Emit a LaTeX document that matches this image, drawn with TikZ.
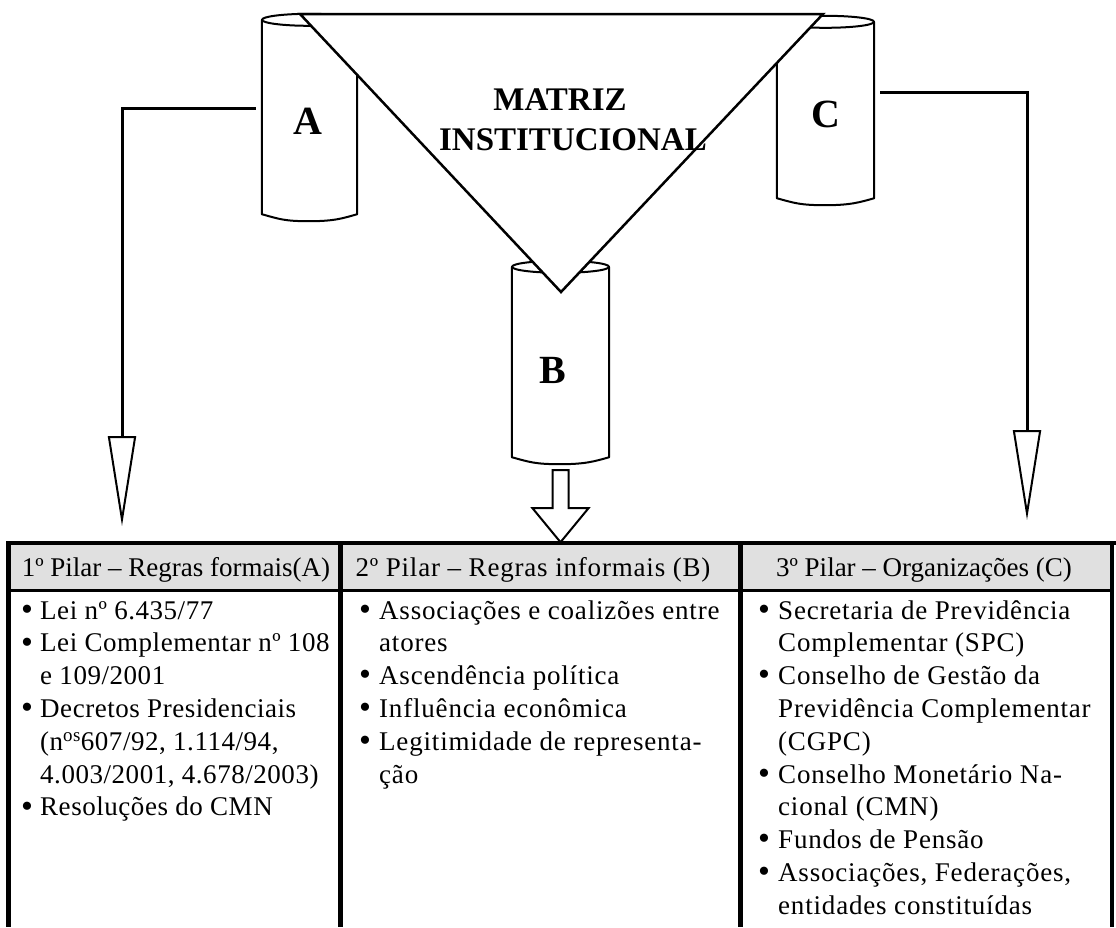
\documentclass[tikz,border=0pt]{standalone}
\usepackage{fontspec}
\setmainfont{Liberation Serif}
\newfontfamily\widefont[LetterSpace=3]{Liberation Serif}
\newfontfamily\snugfont[LetterSpace=2]{Liberation Serif}
\usetikzlibrary{arrows.meta,calc}
\definecolor{headgray}{RGB}{224,224,224}

% one pillar drawn as an upright scroll: flat top ellipse, straight sides, sagging foot
% #1 = node that spans the pillar body, #2 = half of its width
\newcommand\pillar[2]{%
  \draw[outline, fill=white] (#1.north west) -- (#1.south west)
    .. controls +(18,5) and +(-25,0) .. ($(#1.south)+(0,7)$)
    .. controls +(25,0) and +(-14,4) .. (#1.south east) -- (#1.north east);
  \draw[outline, fill=white] (#1.north) ellipse [x radius=#2, y radius=6];
}

\begin{document}
\begin{tikzpicture}[x=1pt, y=-1pt,
  outline/.style={line width=2pt, line join=round},
  link/.style={line width=3pt},
  opentip/.style={-{Triangle[open, length=90pt, width=28pt, line width=2pt]}},
  body/.style={inner sep=0pt, draw=none},
  bigletter/.style={font=\fontsize{40}{40}\selectfont\bfseries, inner sep=0pt},
  title/.style={font=\fontsize{33}{40}\selectfont\bfseries, inner sep=0pt},
  cell/.style={font=\widefont\fontsize{27}{27}\selectfont, inner sep=0pt, anchor=base west},
  snugcell/.style={cell, font=\snugfont\fontsize{27}{27}\selectfont},
  dot/.style={font=\fontsize{34}{34}\selectfont, inner sep=0pt, anchor=base},
  head/.style={font=\fontsize{27}{27}\selectfont, inner sep=0pt, anchor=base},
  rule/.style={line width=4.5pt},
]
\useasboundingbox (0,0) rectangle (1116,927);

% the three pillars
\node[body, minimum width=95pt, minimum height=194pt] (A) at (309.5,117) {};
\node[body, minimum width=97pt, minimum height=190pt] (B) at (560.5,362) {};
\node[body, minimum width=97pt, minimum height=176pt] (C) at (825.5,110) {};
\pillar{A}{47.5}
\pillar{B}{48.5}
\pillar{C}{48.5}

% the institutional matrix, laid over the pillar heads
\coordinate (tl) at (300,14);
\coordinate (tr) at (823,14);
\coordinate (tb) at (561,292);
\draw[line width=2.5pt, line join=miter, fill=white] (tl) -- (tr) -- (tb) -- cycle;
\node[title] (m1) at (560,100) {MATRIZ};
\node[title] (m2) at (573,140) {INSTITUCIONAL};

% pillar letters
\node[bigletter] (la) at (308,121) {A};
\node[bigletter] (lb) at (553,370) {B};
\node[bigletter] (lc) at (826,114) {C};

% connectors from the side pillars down to the table
\coordinate (ltip) at (122,526);
\coordinate (rtip) at (1027,520);
\draw[link, opentip] ($(A.west)+(-6,-9)$) -| (ltip);
\draw[link, opentip] ($(C.east)+(6,-18)$) -| (rtip);

% block arrow below pillar B
\draw[outline, line join=miter, fill=white]
  ($(B.south)+(-8,13)$) -- ($(B.south)+(8,13)$) -- ($(B.south)+(8,51)$)
  -- ($(B.south)+(28,51)$) -- ($(B.south)+(0,85)$) -- ($(B.south)+(-28,51)$)
  -- ($(B.south)+(-8,51)$) -- cycle;

% table of the three pillars
\fill[headgray] (8,543) rectangle (1112,590);
\draw[rule] (6,543) -- (1116,543);
\draw[line width=3.5pt] (8,590.5) -- (1112,590.5);
\foreach \x in {8.5,340.5,740.5,1112}
  \draw[rule] (\x,541) -- (\x,927);

\node[head] (h1) at (176,576) {1º Pilar – Regras formais(A)};
\node[head, font=\widefont\fontsize{27}{27}\selectfont] (h2) at (533,576) {2º Pilar – Regras informais (B)};
\node[head] (h3) at (924,576) {3º Pilar – Organizações (C)};

% rows share one grid: baseline of row k is 619 + 32.8 (k-1)
\def\rowy#1{619+32.8*(#1-1)}

% first column
\foreach \t [count=\i] in {
  {Lei nº 6.435/77},
  {Lei Complementar nº 108},
  {e 109/2001},
  {Decretos Presidenciais},
  {(n\textsuperscript{os}607/92, 1.114/94,},
  {4.003/2001, 4.678/2003)},
  {Resoluções do CMN}}
  \node[snugcell] (ca\i) at (40,{\rowy{\i}}) {\t};
\foreach \r [count=\i] in {1,2,4,7}
  \node[dot] (ba\i) at (27,{\rowy{\r}+1.3}) {•};

% second column
\foreach \t [count=\i] in {
  {Associações e coalizões entre},
  {atores},
  {Ascendência política},
  {Influência econômica},
  {Legitimidade de representa-},
  {ção}}
  \node[cell] (cb\i) at (379,{\rowy{\i}}) {\t};
\foreach \r [count=\i] in {1,3,4,5}
  \node[dot] (bb\i) at (365,{\rowy{\r}+1.3}) {•};

% third column
\foreach \t [count=\i] in {
  {Secretaria de Previdência},
  {Complementar (SPC)},
  {Conselho de Gestão da},
  {Previdência Complementar},
  {(CGPC)},
  {Conselho Monetário Na-},
  {cional (CMN)},
  {Fundos de Pensão},
  {Associações, Federações,},
  {entidades constituídas}}
  \node[cell] (cc\i) at (778,{\rowy{\i}}) {\t};
\foreach \r [count=\i] in {1,3,6,8,9}
  \node[dot] (bc\i) at (764,{\rowy{\r}+1.3}) {•};

\end{tikzpicture}
\end{document}
